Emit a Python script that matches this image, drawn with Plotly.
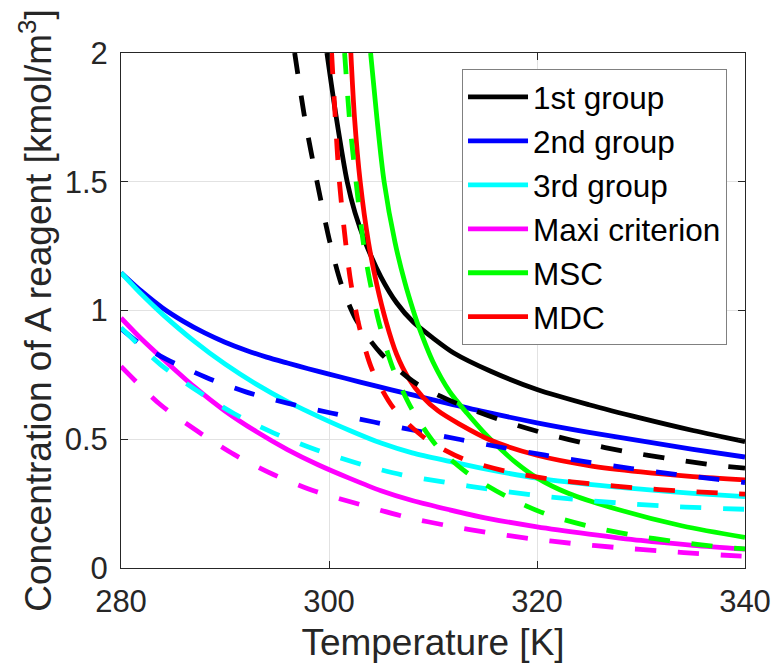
import plotly.graph_objects as go

# ---- series data: temperature [K] vs concentration of A [kmol/m^3] ----
# solid lines
t_g1 = [299.8, 300.7, 301.75, 302.5, 303.5, 305.0, 306.5, 308.1, 310.0, 312.0, 315.5, 320, 325, 330, 335, 340]
c_g1 = [2.0, 1.75, 1.5, 1.38, 1.264, 1.13, 1.03, 0.955, 0.893, 0.835, 0.765, 0.693, 0.634, 0.582, 0.534, 0.491]

t_g2 = [280, 282, 284, 286, 288, 290, 292, 294, 296, 298, 300, 303, 306, 310, 315, 320, 325, 330, 335, 340]
c_g2 = [1.147, 1.074, 1.010, 0.958, 0.914, 0.877, 0.846, 0.819, 0.796, 0.774, 0.753, 0.722, 0.692, 0.653, 0.606, 0.564, 0.527, 0.494, 0.461, 0.431]

t_g3 = [280, 282, 284, 287, 290, 293, 296, 299, 302, 305, 308, 311.6, 315, 320, 325, 330, 335, 340]
c_g3 = [1.147, 1.062, 0.985, 0.882, 0.792, 0.714, 0.646, 0.588, 0.534, 0.485, 0.447, 0.414, 0.385, 0.349, 0.325, 0.306, 0.29, 0.277]

t_maxi = [280, 282, 284, 287, 290, 293, 296, 299, 302, 305, 308, 311.6, 315, 320, 325, 330, 335, 340]
c_maxi = [0.971, 0.888, 0.813, 0.705, 0.610, 0.530, 0.460, 0.400, 0.348, 0.300, 0.262, 0.226, 0.195, 0.160, 0.132, 0.107, 0.088, 0.073]

t_msc = [304.0, 304.6, 305.3, 306.35, 307.3, 308.1, 308.6, 310.0, 311.6, 313.3, 315.0, 316.5, 318.0, 320, 323, 327.7, 334, 340]
c_msc = [2.0, 1.75, 1.5, 1.264, 1.108, 1.0, 0.94, 0.80, 0.685, 0.60, 0.522, 0.462, 0.408, 0.35, 0.29, 0.228, 0.163, 0.119]

t_mdc = [302.1, 302.45, 303.0, 303.8, 304.6, 305.5, 306.5, 307.6, 309.0, 310.5, 312.5, 315.5, 320, 325, 330, 335, 340]
c_mdc = [2.0, 1.75, 1.5, 1.264, 1.1, 0.955, 0.83, 0.74, 0.665, 0.61, 0.56, 0.497, 0.438, 0.398, 0.373, 0.355, 0.342]

# dashed lines
t_g1_d = [296.7, 297.7, 298.85, 300.1, 301.2, 302.6, 305.0, 308.4, 312.35, 316.4, 320.3, 324.5, 328.6, 332.8, 337, 340]
c_g1_d = [2.0, 1.74, 1.5, 1.263, 1.10, 0.965, 0.833, 0.716, 0.638, 0.576, 0.528, 0.485, 0.452, 0.424, 0.40, 0.388]

t_g2_d = [280, 282, 284.3, 288.2, 292, 296, 300.2, 304.3, 308.4, 312.6, 316.8, 320.8, 324.9, 329.1, 333.3, 337.4, 340]
c_g2_d = [0.93, 0.866, 0.812, 0.74, 0.684, 0.64, 0.602, 0.567, 0.533, 0.499, 0.467, 0.438, 0.411, 0.386, 0.364, 0.344, 0.332]

t_g3_d = [280, 283.8, 287.4, 290.9, 294.7, 298.75, 303.3, 307, 311.6, 315.3, 319.5, 323.8, 328, 332.1, 336.5, 340]
c_g3_d = [0.933, 0.79, 0.686, 0.599, 0.524, 0.459, 0.40, 0.362, 0.33, 0.307, 0.284, 0.266, 0.252, 0.241, 0.233, 0.228]

t_maxi_d = [280, 283.8, 287.4, 290.9, 294.7, 298.75, 303.3, 307.5, 311.6, 315.2, 319.4, 323.5, 327.8, 332, 336.3, 340]
c_maxi_d = [0.783, 0.634, 0.53, 0.44, 0.362, 0.297, 0.243, 0.197, 0.163, 0.138, 0.114, 0.095, 0.079, 0.066, 0.054, 0.045]

t_msc_d = [301.5, 302.0, 302.6, 303.3, 303.9, 304.9, 306.2, 308.0, 310.4, 313.2, 317.1, 320.9, 325.1, 329.3, 333.4, 337.6, 340]
c_msc_d = [2.0, 1.73, 1.5, 1.264, 1.12, 0.939, 0.77, 0.615, 0.472, 0.372, 0.277, 0.209, 0.161, 0.127, 0.102, 0.082, 0.074]

t_mdc_d = [300.25, 300.6, 301.0, 301.6, 302.1, 302.9, 304.15, 306.2, 309.2, 312.9, 317.1, 321.25, 325.4, 329.6, 333.9, 338.1, 340]
c_mdc_d = [2.0, 1.75, 1.5, 1.264, 1.108, 0.939, 0.77, 0.621, 0.505, 0.424, 0.375, 0.345, 0.326, 0.311, 0.299, 0.29, 0.287]

names = ["1st group", "2nd group", "3rd group", "Maxi criterion", "MSC", "MDC"]
colors = ["#000000", "#0000ff", "#00ffff", "#ff00ff", "#00ff00", "#ff0000"]
solid = [(t_g1, c_g1), (t_g2, c_g2), (t_g3, c_g3), (t_maxi, c_maxi), (t_msc, c_msc), (t_mdc, c_mdc)]
dashed = [(t_g1_d, c_g1_d), (t_g2_d, c_g2_d), (t_g3_d, c_g3_d), (t_maxi_d, c_maxi_d), (t_msc_d, c_msc_d), (t_mdc_d, c_mdc_d)]

x_ticks = [280, 300, 320, 340]
y_ticks = [0, 0.5, 1, 1.5, 2]
y_ticktext = ["0", "0.5", "1", "1.5", "2"]

FONT = "Liberation Sans, Arial, sans-serif"
AX = "#262626"
LW = 4.8

fig = go.Figure()
for name, col, (t, c) in zip(names, colors, solid):
    fig.add_trace(go.Scatter(x=t, y=c, mode="lines", name=name,
                             line=dict(color=col, width=LW, shape="spline", smoothing=0.8)))
for name, col, (t, c) in zip(names, colors, dashed):
    fig.add_trace(go.Scatter(x=t, y=c, mode="lines", name=name + " (dashed)", showlegend=False,
                             line=dict(color=col, width=LW, dash="21px,22px", shape="spline", smoothing=0.8)))

axis_common = dict(
    showline=True, linecolor=AX, linewidth=1, mirror="ticks",
    ticks="inside", ticklen=7, tickcolor=AX, tickwidth=1,
    showgrid=True, gridcolor="#e2e2e2", gridwidth=1, zeroline=False,
    tickfont=dict(family=FONT, size=31, color=AX), automargin=False,
)

fig.update_layout(
    width=774, height=666,
    margin=dict(l=121, r=29, t=53, b=98, pad=0),
    paper_bgcolor="white", plot_bgcolor="white",
    font=dict(family=FONT, color=AX),
    xaxis=dict(range=[280, 340], tickvals=x_ticks, ticklabelstandoff=6,
               title=dict(text="Temperature [K]", font=dict(family=FONT, size=37, color=AX), standoff=10),
               **axis_common),
    yaxis=dict(range=[0, 2], tickvals=y_ticks, ticktext=y_ticktext, ticklabelstandoff=6,
               title=dict(text="Concentration of A reagent [kmol/m<sup>3</sup>]",
                          font=dict(family=FONT, size=37, color=AX), standoff=1),
               **axis_common),
    legend=dict(x=0.5465, y=0.969, xanchor="left", yanchor="top",
                bgcolor="white", bordercolor="#808080", borderwidth=1,
                font=dict(family=FONT, size=31.5, color="#000000"),
                itemwidth=60, tracegroupgap=0),
    showlegend=True,
)

fig.write_html("out.html")
